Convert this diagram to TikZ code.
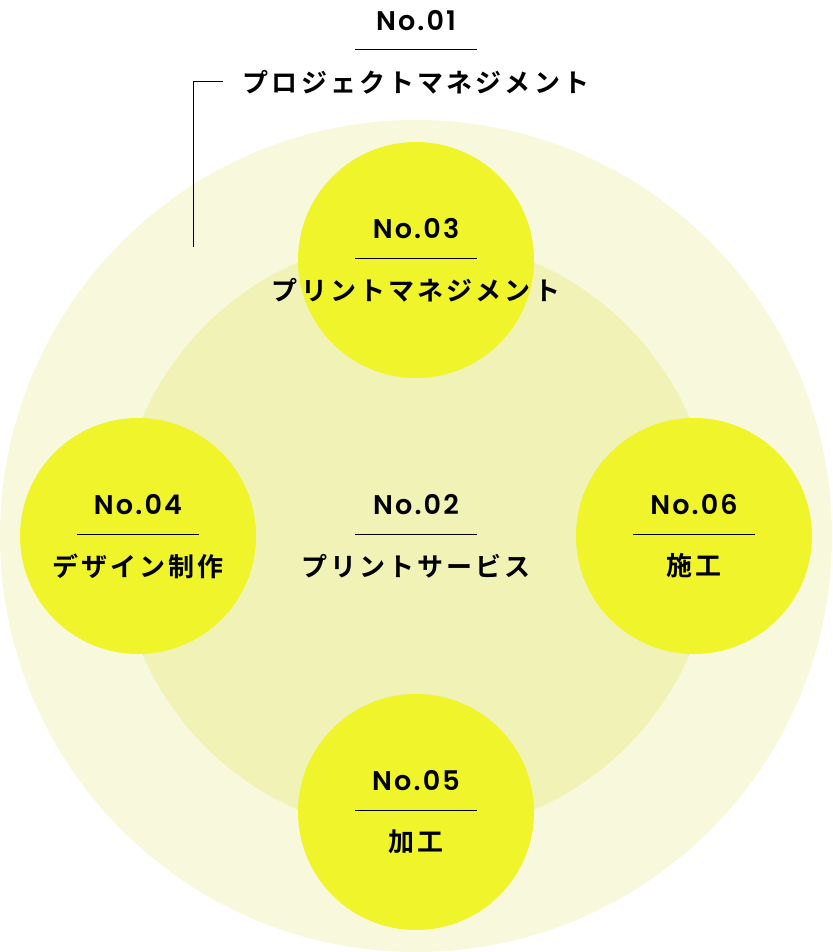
\documentclass[tikz,border=0pt]{standalone}
\usepackage{fontspec}
\setmainfont{Noto Sans CJK JP}[BoldFont={Noto Sans CJK JP Bold}]
\newfontfamily\numfont{Poppins}[UprightFont={* SemiBold},LetterSpace=8]
\newfontfamily\jpfont{Noto Sans CJK JP Bold}[LetterSpace=12]
\usetikzlibrary{positioning}
\definecolor{outerfill}{HTML}{F8F9DC}
\definecolor{innerfill}{HTML}{F0F2B6}
\definecolor{dotfill}{HTML}{EFF52A}
\tikzset{
  numtext/.style={font=\numfont\fontsize{27}{30}\selectfont, inner sep=0pt},
  jptext/.style={font=\jpfont\fontsize{26}{30}\selectfont, inner sep=0pt},
  bubble/.style={circle, fill=dotfill, minimum size=236pt, inner sep=0pt}
}
\newcommand{\stepLabel}[4]
{
	\node[numtext] (#1-no) at ([yshift=31pt]#2) {#3};
	\draw[line width=1pt] ([yshift=2pt,xshift=-61pt]#2) coordinate (#1-l) -- ([yshift=2pt,xshift=61pt]#2) coordinate (#1-r);
	\node[jptext] (#1-txt) at ([yshift=-30pt]#2) {#4};
}
\begin{document}
\begin{tikzpicture}[x=1pt,y=1pt]
\useasboundingbox (0,0) rectangle (832,-952);
\fill[outerfill] (416,-536) circle (416);
\fill[innerfill] (416,-536) circle (298);
\node[bubble] (pm) at (416,-260) {};
\node[bubble] (ds) at (138,-536) {};
\node[bubble] (sk) at (694,-536) {};
\node[bubble] (kk) at (416,-812) {};
\coordinate (top) at (416,-52);
\coordinate (mid) at (416,-536);
\stepLabel{n1}{top}{No.01}{プロジェクトマネジメント}
\stepLabel{n3}{pm.center}{No.03}{プリントマネジメント}
\stepLabel{n4}{ds.center}{No.04}{デザイン制作}
\stepLabel{n2}{mid}{No.02}{プリントサービス}
\stepLabel{n6}{sk.center}{No.06}{施工}
\stepLabel{n5}{kk.center}{No.05}{加工}
% bracket
\coordinate (brk) at (193,-247);
\draw[line width=1pt] (brk) |- ([xshift=-20pt]n1-txt.west);
\end{tikzpicture}
\end{document}
